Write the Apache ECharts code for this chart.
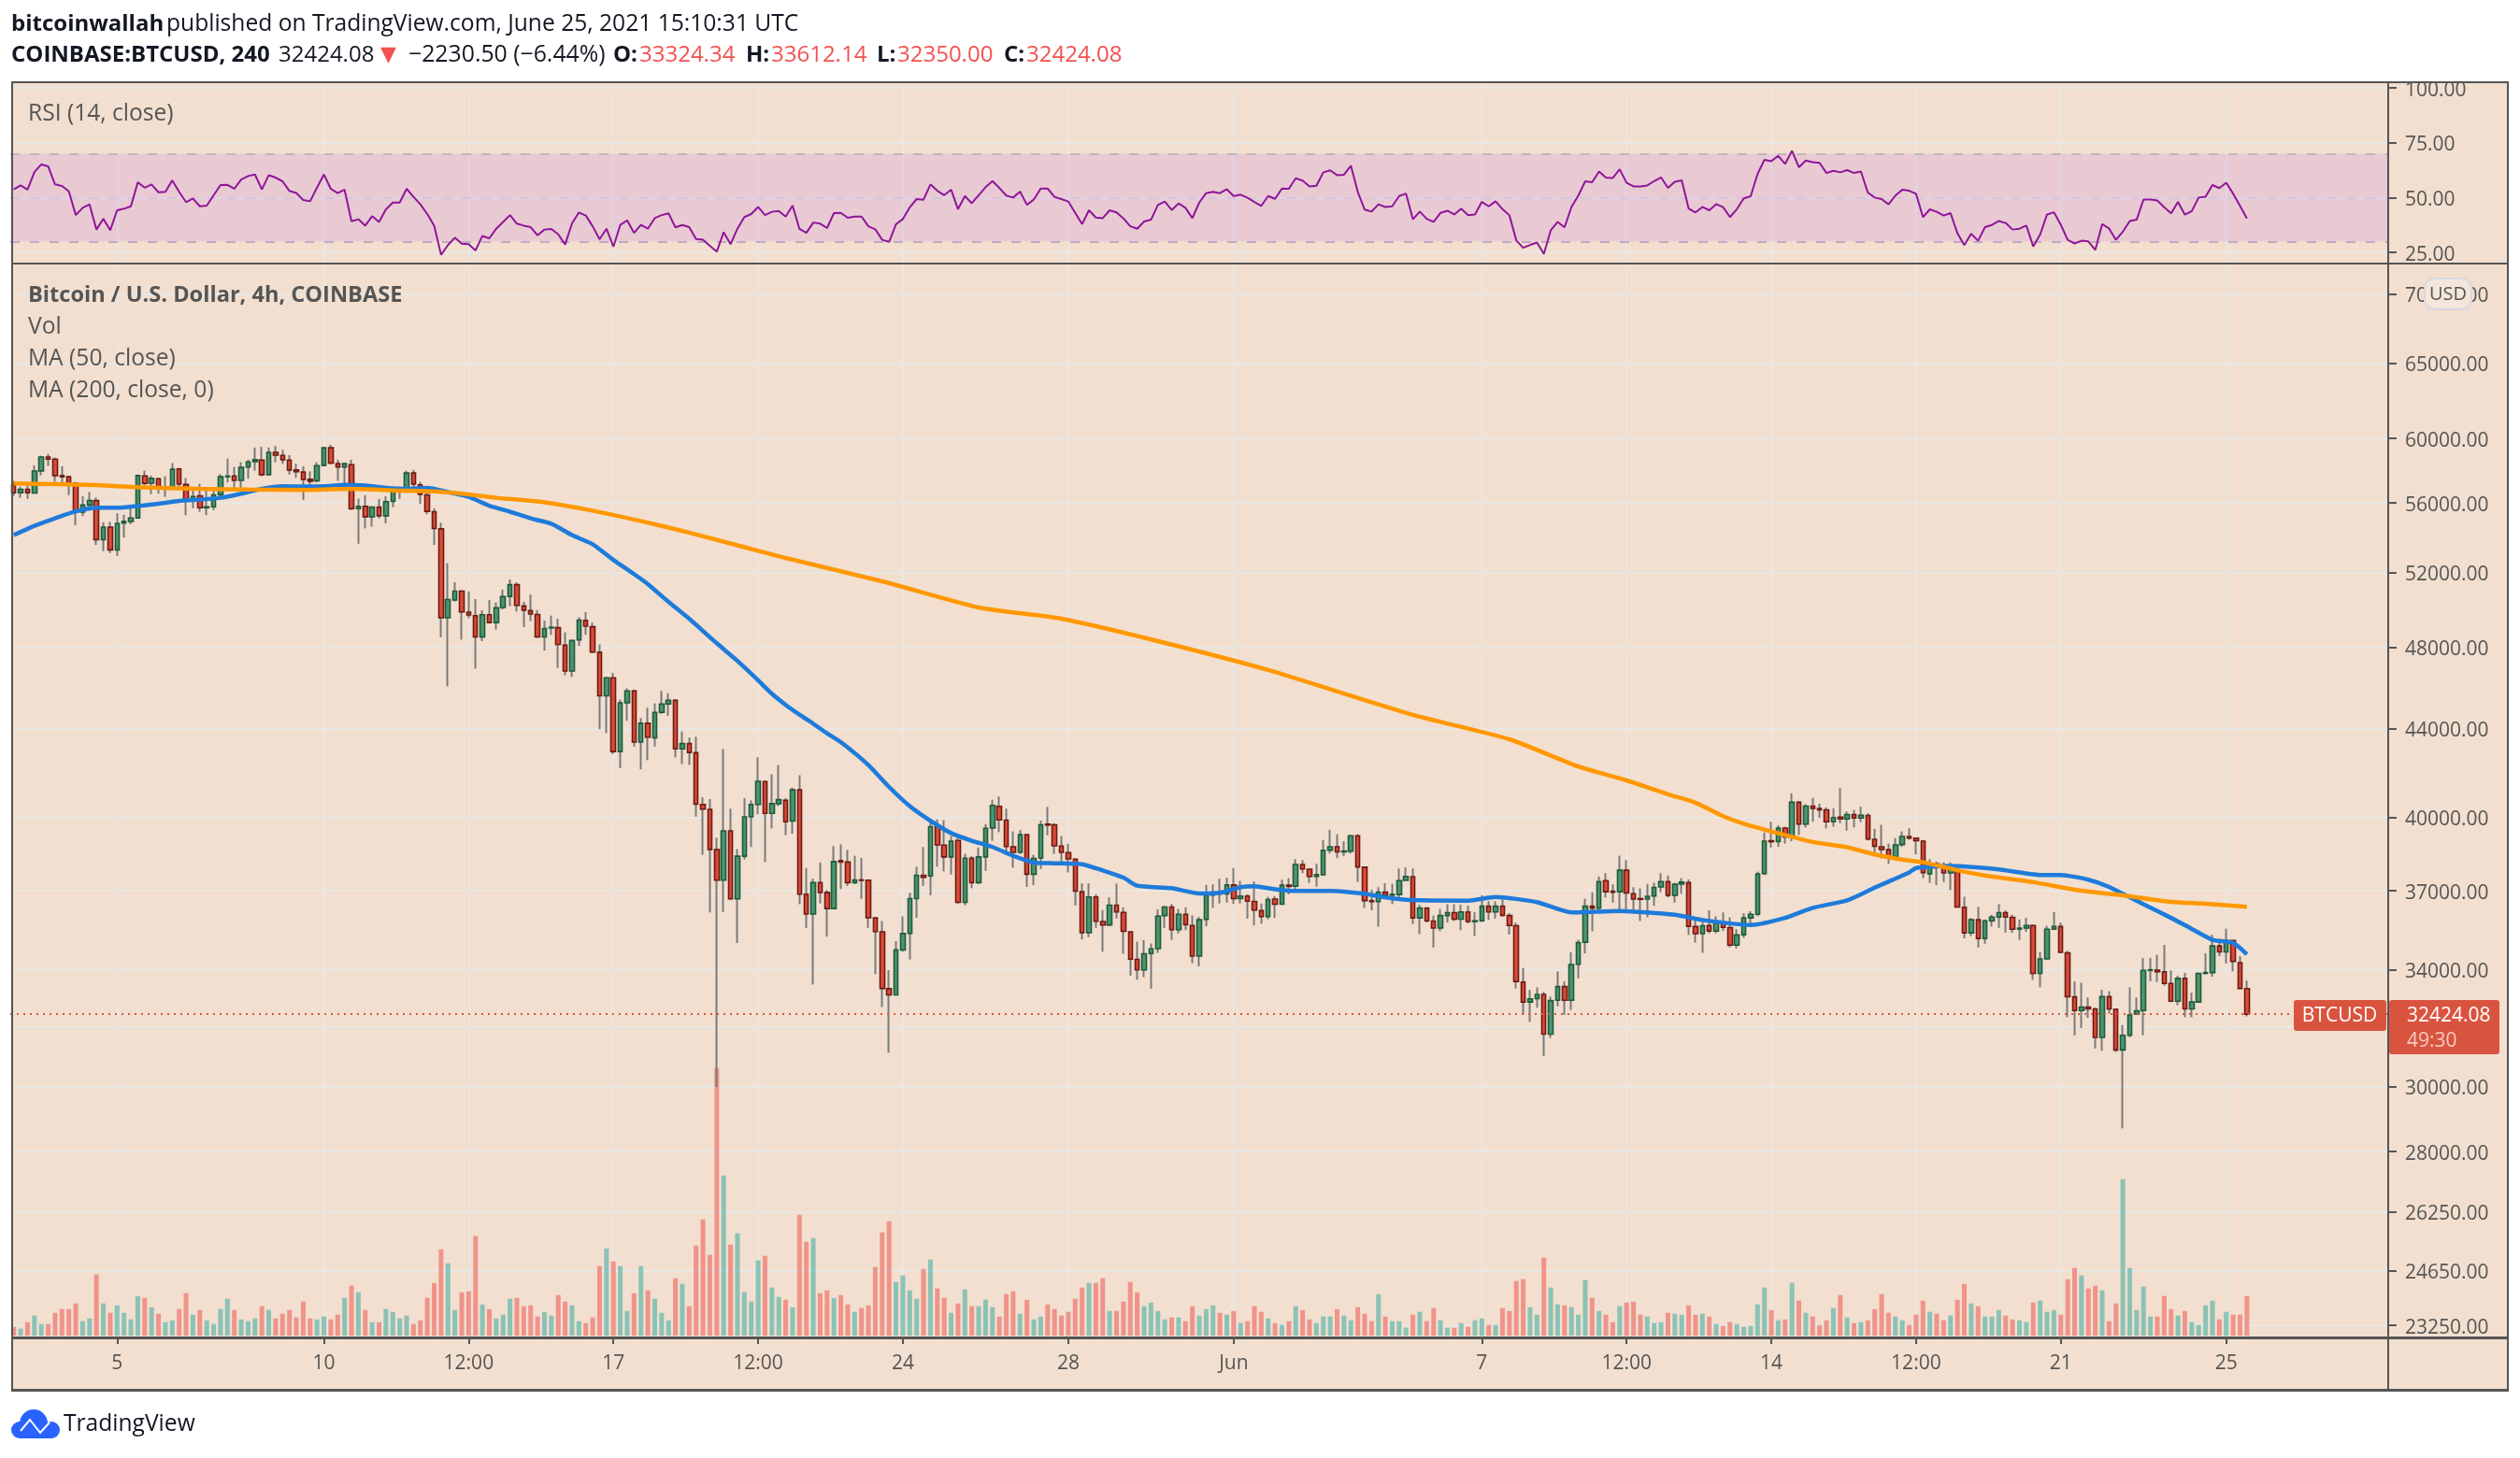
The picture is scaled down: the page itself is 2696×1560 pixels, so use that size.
<!DOCTYPE html>
<html><head><meta charset="utf-8">
<style>html,body{margin:0;padding:0;background:#fff}#c{width:2696px;height:1560px}</style>
<script src="https://cdn.jsdelivr.net/npm/echarts@6/dist/echarts.min.js"></script>
</head><body><div id="c"></div>
<script>
// [open, close, low, high] for each 4h candle
const ohlc=[
[57100,56620,56430,57340],[56620,56830,56310,56990],[56830,56620,56240,57200],[56600,57940,56560,58300],[57950,58820,57680,58900],
[58820,58690,58260,59010],[58690,57660,57280,58780],[57660,57590,57160,58240],[57590,57200,56470,57630],[57200,55450,54680,57280],
[55450,55875,55220,56410],[55875,56140,55540,56660],[56140,53850,53540,56330],[53850,54575,53190,54860],[54575,53260,53080,54880],
[53260,54790,52920,55390],[54810,54910,53970,55300],[54900,55110,54740,55840],[55110,57660,55060,57720],[57640,57180,57050,57970],
[57200,57490,56530,57660],[57470,56850,56560,57530],[56850,56890,56370,57630],[56850,58050,56780,58440],[58070,57140,56810,58150],
[57120,56160,55270,57510],[56160,56390,55680,56850],[56430,55715,55470,57160],[55715,55770,55270,56950],[55770,56490,55570,56850],
[56510,57590,56240,57760],[57590,57630,57240,58730],[57640,57370,56760,58200],[57370,58170,56850,58490],[58190,58510,57470,58650],
[58530,58650,57970,59420],[58630,57720,57630,59460],[57720,59110,57680,59420],[59110,58940,58490,59520],[58920,58650,58400,59270],
[58630,58010,57720,58940],[58010,57900,57530,58400],[57880,57430,56180,58240],[57430,57320,57090,57920],[57340,58280,57240,58490],
[58300,59400,58240,59460],[59400,58440,58360,59590],[58400,58190,57340,58650],[58190,58400,56760,58440],[58340,55660,55570,58650],
[55660,55800,53610,56270],[55800,55180,54500,56470],[55180,55750,54610,55800],[55750,55240,55090,56240],[55240,56080,54790,56410],
[56100,56680,55750,56990],[56680,56760,56240,56990],[56760,57820,56600,57970],[57820,57140,56850,58010],[57100,56520,55950,57280],
[56490,55500,55320,56950],[55480,54490,53540,55680],[54470,49530,48510,54825],[49530,50510,46030,52510],[50480,50960,50400,51450],
[50960,49845,48390,51030],[49830,49680,49510,50950],[49645,48530,46910,50530],[48530,49695,48310,49930],[49695,49280,49230,50480],
[49280,50060,48910,50350],[50080,50665,49980,51050],[50680,51315,50145,51600],[51315,50195,49860,51450],[50160,49930,49045,50380],
[49910,49730,49360,50780],[49710,48530,48480,49945],[48530,48960,47830,49380],[49000,49030,48640,49645],[49010,48140,46945,49480],
[48110,46790,46580,48770],[46790,48340,46500,48375],[48375,49410,48060,49560],[49395,49090,48640,49830],[49060,47750,47710,49280],
[47740,45570,43970,48140],[45570,46455,43790,46500],[46455,42936,42810,46700],[42936,45230,42180,45385],[45230,45810,44375,45935],
[45810,43370,43160,45875],[43370,44250,42125,44510],[44250,43600,42540,44990],[43570,44770,43160,45200],[44770,45170,44700,45810],
[45170,45350,44600,45690],[45350,43060,42670,45410],[43060,43300,42360,43860],[43300,42890,42320,43580],[42880,40580,40050,43620],
[40570,40370,38450,40890],[40360,38670,36150,40810],[38660,37420,30000,39160],[37420,39445,36170,43050],[39445,36680,36660,40390],
[36680,38390,34990,38680],[38390,40040,38260,40850],[40040,40570,38770,40750],[40570,41590,40150,42670],[41580,40190,38150,41620],
[40190,40610,39550,41900],[40610,40780,40500,42320],[40750,39830,39260,40850],[39860,41210,39320,41310],[41210,36860,36470,41860],
[36860,36090,35560,37910],[36090,37320,33470,37480],[37320,36930,36500,38130],[36930,36300,35230,37030],[36300,38170,36270,38810],
[38210,38150,37070,38880],[38150,37320,37190,38650],[37320,37430,37260,38410],[37430,37410,36680,38320],[37420,35950,35560,37420],
[35940,35420,33840,35940],[35410,33330,32670,35820],[33320,33100,31120,33990],[33100,34730,33080,35060],[34730,35350,34670,36000],
[35350,36690,34380,36920],[36690,37610,35940,37960],[37610,37530,37190,38770],[37590,39620,36820,39800],[39620,38860,37960,39930],
[38850,38360,37770,39900],[38360,39010,37650,39220],[39040,36540,36500,39190],[36540,38310,36430,38490],[38310,37320,37100,38390],
[37320,38360,37260,38750],[38360,39550,37790,39730],[39560,40530,39030,40780],[40490,39910,39390,40920],[39900,38790,38450,40390],
[38780,38550,37920,39420],[38550,39280,38490,39480],[39280,37660,37150,39290],[37660,38300,37220,38450],[38320,39700,37870,39880],
[39730,39690,39260,40470],[39700,38820,38490,39770],[38810,38550,38130,39220],[38540,38280,37730,38900],[38270,36980,36420,38300],
[36960,35380,35120,37290],[35380,36750,35210,37290],[36750,35810,35560,36860],[35800,35670,34660,36240],[35670,36430,35620,36740],
[36430,36170,35910,37280],[36150,35430,34590,36350],[35410,34390,33790,35410],[34380,34000,33640,35040],[34000,34590,33740,35100],
[34600,34770,33320,34970],[34780,36010,34620,36270],[36030,36360,35560,36410],[36360,35490,35110,36480],[35490,36080,35350,36290],
[36080,35680,35470,36350],[35650,34500,34240,36030],[34500,35870,34130,35980],[35880,36820,35620,37230],[36830,36940,36330,37250],
[36940,36870,36500,37480],[36870,37230,36530,37520],[37230,36690,36480,37910],[36690,36790,36500,37390],[36790,36590,35910,36860],
[36580,36240,35650,37370],[36220,35990,35720,36500],[35990,36650,35890,36760],[36670,36470,35940,36790],[36470,37220,36450,37440],
[37220,37170,36860,37500],[37180,38050,37030,38270],[38050,37870,37700,38230],[37860,37570,37310,37890],[37570,37640,37160,38080],
[37640,38630,37610,39060],[38640,38780,38500,39490],[38780,38570,38310,39300],[38570,38600,38400,39000],[38600,39240,38500,39270],
[39240,37950,37350,39300],[37940,36610,36320,37950],[36610,36570,36230,37040],[36570,36940,35610,37140],[36940,36820,36700,37300],
[36820,36860,36470,37270],[36850,37400,36650,37890],[37410,37570,37410,37930],[37560,35940,35700,37890],[35940,36320,35320,36450],
[36320,35830,35760,36330],[35820,35550,34820,36030],[35550,36030,35430,36290],[36030,36140,35760,36470],[36140,35890,35820,36470],
[35890,36170,35470,36450],[36170,35800,35730,36410],[35800,35830,35250,36170],[35830,36390,35780,36820],[36390,36170,35860,36590],
[36170,36390,35910,36590],[36390,36040,35990,36790],[36030,35650,35310,36120],[35640,33580,33330,35760],[33560,32850,32400,34070],
[32850,32960,32160,33285],[32970,33120,32650,33370],[33120,31740,31010,33210],[31740,32900,31610,33040],[32910,33395,32700,33945],
[33395,32910,32400,33580],[32910,34190,32570,34640],[34200,35000,33690,35110],[35020,36390,34600,36680],[36390,36320,35430,36940],
[36320,37360,36140,37570],[37400,36960,36730,37700],[36980,36940,36530,37250],[36960,37820,36230,38410],[37820,36910,36230,38230],
[36880,36670,36140,37140],[36690,36660,35820,37090],[36670,36780,35960,37270],[36790,37130,36410,37310],[37150,37360,36940,37700],
[37360,36820,36740,37610],[36820,37260,36530,37310],[37260,37340,36880,37500],[37320,35620,35290,37450],[35610,35340,35000,35940],
[35340,35640,34620,35910],[35650,35440,35350,36230],[35440,35740,35350,36000],[35750,35580,35440,36150],[35570,34910,34830,35960],
[34910,35290,34790,35510],[35300,35940,35180,36120],[35940,36080,35680,36200],[36080,37670,36010,37760],[37680,39010,37630,39380],
[39030,38990,38750,39830],[39000,39560,38780,39680],[39560,39190,38910,39620],[39190,40670,39010,41060],[40670,39730,39270,40720],
[39730,40500,39590,40590],[40500,40400,39830,40860],[40400,40340,40000,40610],[40340,39830,39550,40450],[39830,40010,39620,40410],
[40030,39950,39770,41290],[39950,40140,39460,40270],[40140,39990,39590,40340],[39990,40110,39810,40480],[40100,39100,39040,40200],
[39090,38800,38550,39530],[38780,38670,38300,39700],[38660,38370,38080,38910],[38370,38860,38210,39140],[38870,39210,38780,39420],
[39210,39140,39070,39550],[39140,39030,38460,39170],[39010,37720,37500,39060],[37670,38090,37310,38270],[38080,37940,37220,38170],
[37950,37710,37350,38140],[37710,37820,37020,38140],[37820,36360,36340,37890],[36350,35370,35160,36760],[35370,35870,35250,35940],
[35870,35160,34820,36370],[35160,35830,34960,35880],[35830,35970,35610,36060],[35970,36140,35560,36470],[36140,35970,35380,36230],
[35960,35510,35370,36060],[35510,35550,35110,35880],[35550,35650,35410,35940],[35650,33870,33640,35680],[33870,34400,33370,34660],
[34400,35510,34380,35640],[35510,35610,35490,36170],[35610,34640,34620,35760],[34620,33040,32320,34700],[33030,32550,31700,33580],
[32550,32670,31950,33530],[32670,32610,32300,33010],[32610,31630,31260,32650],[31630,33040,31180,33285],[33040,32610,32450,33230],
[32600,31210,31140,32600],[31210,31700,28700,32050],[31700,32400,31640,33370],[32430,32540,32400,33010],[32550,33980,31700,34430],
[33980,34000,33590,34430],[33990,33930,33560,34550],[33930,33510,33430,34920],[33510,32880,32850,33980],[32880,33690,32740,33780],
[33690,32610,32320,33890],[32610,32850,32320,33180],[32850,33870,32820,33900],[33870,33900,33840,34600],[33900,34880,33750,35300],
[34880,34660,34500,35050],[34660,35080,34230,35530],[35080,34310,33945,35110],[34260,33330,33310,34500],[33324.34,32424.08,32350,33612.14]
];
const volumes=[
28,22,43,64,37,37,73,85,85,103,46,55,196,103,73,97,73,52,127,121,91,70,43,49,85,136,67,82,49,37,85,118,82,52,46,55,94,82,55,70,82,58,109,55,52,61,52,67,121,160,139,82,43,43,85,76,55,64,37,49,121,169,277,232,82,139,142,319,100,85,55,67,118,121,94,97,61,76,64,130,109,97,46,40,58,223,280,238,223,79,136,223,145,118,73,49,184,166,94,289,373,259,859,514,292,328,139,109,241,256,154,124,115,91,388,301,313,136,145,121,130,100,76,88,97,220,331,367,172,193,145,118,214,244,
151,121,73,103,148,94,94,115,91,61,133,142,70,115,52,61,100,85,64,76,118,154,169,169,184,79,79,109,172,139,94,106,79,52,58,58,46,94,64,85,97,73,67,79,40,46,94,76,55,40,34,46,94,82,52,40,61,61,85,64,49,91,70,46,133,61,46,46,25,67,76,46,88,49,25,25,40,28,49,55,34,34,88,79,175,181,91,67,250,154,100,97,91,67,178,121,79,67,43,94,106,109,67,61,40,43,73,70,67,97,67,70,61,37,31,43,37,28,31,100,154,82,49,52,169,112,73,61,34,49,88,130,58,40,43,49,85,133,73,61,49,34,67,112,76,70,49,64,115,166,103,94,61,61,82,64,52,49,43,106,112,76,82,67,181,217,193,151,160,145,46,103,502,217,82,157,61,61,127,85,64,79,43,34,97,112,52,76,67,67,127
];
const rsi=[
53.7,55.5,53.6,61.6,65.1,64.2,56,55.3,52.8,42,45.3,46.9,35.4,40.3,35.1,44.2,44.9,46,57,54.5,56,52.4,52.6,57.8,52.6,47.9,49.6,46,46.3,51,55.7,55.8,54,58.2,59.8,60.5,53.7,60.2,59.1,57.4,53,52.1,48.9,48.3,54.5,60.5,54,52,53.6,39.2,40.1,37.2,41.5,38.9,44.6,47.7,47.7,54,50.3,46.9,42.5,37.2,23.9,28.3,31.7,29,28.7,25.9,32.5,31.4,35.8,38.9,42,38.1,37.2,36.5,32.8,35.4,35.7,33.2,28.6,38.2,43.2,41.8,36.9,31,35.8,27.6,37.5,39.6,33.9,37.5,35.8,40.6,42,42.8,36.4,37.5,36.5,31.1,30.8,28,25.3,34.2,28.7,35.8,41.1,42.5,45.7,42,43.5,43.9,41.3,46.3,35.7,33.9,38.6,38.1,36.1,42.9,
43,40.8,41.3,41.3,36.9,35.5,30.7,29.8,37.8,40.2,45.5,49.3,49,56,53.1,51.1,53.6,44.7,50.7,47.4,51.1,54.7,57.5,54.4,50.9,50,52.7,46.7,49.1,54.1,54.1,50.3,49.3,48.2,43,37.9,44.2,40.9,40.6,44.2,43.2,40.5,36.9,35.8,39.1,39.9,46.6,48.2,44.3,47.3,45.3,40.6,47.7,52,52.6,52,53.8,50.7,51.3,49.9,48,46.2,50.7,49.4,54.1,54,58.8,57.7,55.1,55.4,61.5,62.4,60.2,60.4,64.5,52.6,44.5,
43.6,46.9,45.7,46,50.7,51.8,40.1,43.6,40.3,38.9,43,44,42.3,44.9,42,42.3,48,46,48.3,44.7,41.9,30.4,27.1,28.4,29.5,24.3,35.1,38.9,36.4,45.7,50.9,57.4,57,61.9,59.1,58.9,62.9,56.7,55.1,55.1,55.5,57.5,59.2,54.4,57.2,57.8,45,43.2,45.7,44.2,47,45.6,41.1,44.7,49.6,50.6,60.7,67.2,66.6,69,65.3,71.3,63.8,66.9,66.1,65.8,61.2,62.2,61.5,62.5,61.2,61.9,52.3,50,49.3,46.9,
50.9,53.6,53.1,51.7,41.1,44.6,43.5,41.8,42.9,33.7,28.3,33.5,30.3,36.5,37.5,39.3,38.4,35.4,35.8,37.2,27.7,33.1,42.3,43.3,37.6,30.7,29,30.3,30,26.1,37.9,35.9,30.7,34.4,39.3,39.9,49.1,49.1,48.7,45.6,42.8,48,42.2,43.8,50,50.4,55.7,54.3,56.8,51.8,46.2,40.5
];
// [candle index, price] read along each moving average
const ma50=[[0,54110],[3,54650],[6,55090],[9,55500],[12,55715],[15,55710],[18,55820],[21,55950],[24,56120],[27,56200],[30,56310],[33,56560],[36,56850],[39,57010],[42,56990],[45,57010],[48,57090],[51,57050],[54,56910],[57,56850],[60,56910],[63,56660],[66,56370],[69,55840],[72,55480],[75,55090],[78,54770],[81,54110],[84,53580],[87,52690],[90,51900],[92,51350],[95,50380],[98,49480],[102,48200],[105,47300],[108,46330],[110,45670],[112,45130],[114,44660],[116,44230],[118,43780],[120,43370],[124,42320],[127,41340],[130,40500],[133,39870],[136,39350],[139,39030],[142,38770],[145,38410],[148,38130],[151,38100],[155,38060],[158,37810],[161,37520],[163,37200],[168,37100],[172,36890],[175,36920],[178,37140],[180,37180],[183,37060],[186,36990],[191,36990],[194,36940],[196,36880],[200,36700],[204,36620],[211,36610],[215,36750],[221,36550],[226,36150],[233,36210],[241,36060],[245,35860],[252,35670],[257,35940],[261,36330],[266,36620],[270,37120],[275,37730],[276,37910],[281,37990],[288,37850],[294,37630],[297,37630],[301,37440],[304,37150],[309,36470],[313,35940],[316,35520],[319,35110],[322,34990],[324,34570]];
const ma200=[[0,57180],[6,57140],[12,57080],[18,56950],[27,56850],[34,56810],[43,56790],[49,56850],[55,56760],[61,56700],[66,56520],[70,56310],[77,56040],[84,55540],[93,54740],[98,54250],[112,52800],[126,51500],[140,50080],[152,49480],[166,48310],[182,46840],[203,44650],[217,43500],[227,42250],[234,41630],[240,41020],[244,40650],[248,40070],[251,39744],[255,39420],[261,38980],[266,38760],[270,38460],[274,38250],[277,38140],[282,37820],[286,37610],[293,37340],[300,37000],[306,36820],[313,36560],[318,36490],[324,36370]];
const xTickIndex=[15,45,66,87,108,129,153,177,213,234,255,276,297,321];
const xTickLabels=['5','10','12:00','17','12:00','24','28','Jun','7','12:00','14','12:00','21','25'];
const priceTicks=[23250,24650,26250,28000,30000,32000,34000,37000,40000,44000,48000,52000,56000,60000,65000,70000];
const rsiTicks=[25,50,75,100];
const lastPrice=32424.08;
const slots=345;
const categories=[];
for(let i=0;i<slots;i++){const t=new Date(Date.UTC(2021,4,2,12)+i*4*3600e3);categories.push(t.toISOString().slice(0,16));}

const FONT='"Open Sans"';
const BG='#F2DFCF',GRID='#E9E7E4',INK='#555555',FRAME='#555555';
const tickMap=new Map(xTickIndex.map((k,i)=>[k,xTickLabels[i]]));
const isTick=i=>tickMap.has(i);
const up='#4F9470',upB='#1D5B3B',dn='#DA4C39',dnB='#6D1A13',wick='#7A7A7A';

const wicks=ohlc;
const bodies=ohlc.map(r=>[r[0],r[1],Math.min(r[0],r[1]),Math.max(r[0],r[1])]);
const volData=volumes.map((v,i)=>({value:v,itemStyle:{color:ohlc[i][1]>=ohlc[i][0]?'rgba(38,166,154,0.5)':'rgba(239,83,80,0.55)'}}));

function xAxis(gridIndex,showLabels){return{
 type:'category',gridIndex,data:categories,boundaryGap:true,
 axisLine:{show:false},
 axisTick:{show:showLabels,alignWithLabel:true,interval:isTick,length:8,lineStyle:{color:FRAME,width:2}},
 axisLabel:{show:showLabels,interval:isTick,margin:19,fontFamily:FONT,fontSize:21,color:INK,formatter:(v,i)=>tickMap.get(i)||''},
 splitLine:{show:gridIndex!==2,alignWithLabel:true,interval:isTick,showMinLine:true,showMaxLine:true,lineStyle:{color:GRID,width:2}}
};}
function yAxisFor(ticks,extra){return Object.assign({
 position:'right',axisLine:{show:false},
 axisTick:{show:true,length:9,customValues:ticks,lineStyle:{color:FRAME,width:2}},
 axisLabel:{customValues:ticks,margin:18,fontFamily:FONT,fontSize:21,color:INK,formatter:v=>'{a|'+Number(v).toFixed(2)+'}',
   rich:{a:{fontFamily:FONT,fontSize:21,color:INK,padding:[5,0,0,0]}}},
 splitLine:{show:true,customValues:ticks,lineStyle:{color:GRID,width:2}}
},extra);}

function txt(text,x,y,o={}){return{type:'text',z:200,style:Object.assign({text,x,y,fontFamily:FONT,fontSize:24,fill:INK,verticalAlign:'middle',align:'left'},o)};}
function box(x,y,w,h,fill,r,z){return{type:'rect',z:z===undefined?190:z,shape:{x,y,width:w,height:h,r:r||0},style:{fill}};}
function dot(cx,cy,r){return{type:'circle',z:200,shape:{cx,cy,r},style:{fill:'#2962FF'}};}
const INKD='#131722',RED='#F2524F';
const graphics=[
 box(12,87,2672,1400,BG,0,-10),
 box(12,87,2672,2,FRAME),box(12,281,2672,2,FRAME),box(12,1430,2672,3,FRAME),box(12,1486,2672,3,FRAME),
 box(12,87,2,1400,FRAME),box(2682,87,2,1400,FRAME),box(2554,87,2,1400,FRAME),
 txt('bitcoinwallah',12,26,{fontWeight:'bold',fill:INKD}),
 txt('published on TradingView.com, June 25, 2021 15:10:31 UTC',178,26,{fill:INKD,fontSize:24.6}),
 txt('COINBASE:BTCUSD, 240',12,59,{fontWeight:'bold',fill:INKD}),
 txt('32424.08',298,59,{fill:INKD}),
 txt('▼',407,59,{fill:RED,fontFamily:'"DejaVu Sans"',fontSize:22}),
 txt('−2230.50 (−6.44%)',437,59,{fill:INKD,fontSize:24.8}),
 txt('O:',656,59,{fontWeight:'bold',fill:INKD}),txt('33324.34',684,59,{fill:RED}),
 txt('H:',798,59,{fontWeight:'bold',fill:INKD}),txt('33612.14',825,59,{fill:RED}),
 txt('L:',938,59,{fontWeight:'bold',fill:INKD}),txt('32350.00',960,59,{fill:RED}),
 txt('C:',1074,59,{fontWeight:'bold',fill:INKD}),txt('32424.08',1098,59,{fill:RED}),
 txt('RSI (14, close)',30,122,{fontSize:24.6}),
 txt('Bitcoin / U.S. Dollar, 4h, COINBASE',30,316,{fontWeight:'bold',fontSize:23.6}),
 txt('Vol',30,350,{fontSize:24.6}),txt('MA (50, close)',30,384,{fontSize:24.6}),txt('MA (200, close, 0)',30,418,{fontSize:24.6}),
 {type:'rect',z:195,shape:{x:2594,y:298,width:50,height:33,r:10},style:{fill:'#F4E6DA',stroke:'#D6D9E0',lineWidth:2}},
 txt('USD',2619,315,{align:'center',fontSize:20}),
 box(2454,1070,99,33,'#D9543F',3),box(2556,1070,118,58,'#D9543F',3),
 txt('BTCUSD',2503,1087,{align:'center',fill:'#FFFFFF',fontSize:21}),
 txt('32424.08',2575,1087,{fill:'#FFFFFF',fontSize:21}),
 txt('49:30',2575,1114,{fill:'#F6C9C0',fontSize:21}),
 dot(36,1523,15),dot(21,1530,9),dot(55,1530,9),
 {type:'rect',z:200,shape:{x:21,y:1525,width:34,height:14},style:{fill:'#2962FF'}},
 {type:'polyline',z:201,shape:{points:[[22,1531],[32,1519],[43,1533],[53,1522]]},style:{stroke:'#FFFFFF',lineWidth:2,fill:'none'}},
 txt('TradingView',68,1524,{fill:INKD,fontSize:24.6})
];

const chart=echarts.init(document.getElementById('c'),null,{renderer:'canvas',width:2696,height:1560});
chart.setOption({
 animation:false,backgroundColor:'#FFFFFF',
 grid:[
  {left:11,right:141,top:87,height:195,borderWidth:0},
  {left:11,right:141,top:282,height:1148,borderWidth:0},
  {left:11,right:141,top:1129,height:300,borderWidth:0}
 ],
 xAxis:[xAxis(0,false),xAxis(1,true),xAxis(2,false)],
 yAxis:[
  yAxisFor(rsiTicks,{type:'value',gridIndex:0,min:19.9,max:103}),
  yAxisFor(priceTicks,{type:'log',logBase:10,gridIndex:1,min:22976,max:72330}),
  {type:'value',gridIndex:2,min:0,max:900,show:false,splitLine:{show:false}}
 ],
 series:[
  {name:'Vol',type:'bar',xAxisIndex:2,yAxisIndex:2,data:volData,barWidth:5,z:2,silent:true},
  {name:'RSI',type:'line',xAxisIndex:0,yAxisIndex:0,data:rsi,symbol:'none',z:5,silent:true,
   lineStyle:{color:'#8E1599',width:2},
   markArea:{silent:true,itemStyle:{color:'rgba(153,21,255,0.1)'},data:[[{yAxis:30},{yAxis:70}]]},
   markLine:{silent:true,symbol:'none',label:{show:false},data:[
     {yAxis:70,lineStyle:{color:'#C3B3BB',type:[10,11],width:2}},
     {yAxis:50,lineStyle:{color:'#D9C4DC',type:[10,11],width:2}},
     {yAxis:30,lineStyle:{color:'#C3A9C3',type:[10,11],width:2}}]}},
  {name:'Wicks',type:'candlestick',xAxisIndex:1,yAxisIndex:1,data:wicks,barWidth:1,z:3,silent:true,large:false,
   itemStyle:{color:wick,color0:wick,borderColor:wick,borderColor0:wick,borderColorDoji:wick,borderWidth:2}},
  {name:'BTCUSD',type:'candlestick',xAxisIndex:1,yAxisIndex:1,data:bodies,barWidth:5,z:4,silent:true,large:false,
   itemStyle:{color:up,color0:dn,borderColor:upB,borderColor0:dnB,borderColorDoji:dnB,borderWidth:1.6},
   markLine:{silent:true,symbol:'none',label:{show:false},data:[{yAxis:lastPrice}],lineStyle:{color:'#D9543F',type:[2,5],width:2}}},
  {name:'MA 50',type:'line',xAxisIndex:1,yAxisIndex:1,data:ma50,symbol:'none',smooth:0.2,z:6,silent:true,lineStyle:{color:'#1E7BDB',width:4.5}},
  {name:'MA 200',type:'line',xAxisIndex:1,yAxisIndex:1,data:ma200,symbol:'none',smooth:0.2,z:6,silent:true,lineStyle:{color:'#FF9800',width:4.5}}
 ],
 graphic:{elements:graphics}
});
</script></body></html>
